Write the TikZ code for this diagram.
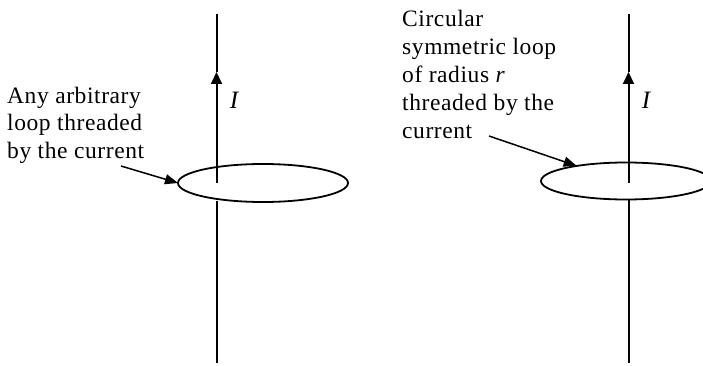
\documentclass[tikz,border=0pt]{standalone}
\usepackage{fontspec}
\setmainfont{Liberation Serif}
\newfontfamily\lblfont[LetterSpace=2.5]{Liberation Serif}
\usetikzlibrary{arrows.meta,shapes.geometric}
\tikzset{
  wire/.style={line width=2pt},
  midtip/.style={-{Triangle[length=12pt,width=11pt]}},
  ptrtip/.style={-{Triangle[length=13pt,width=10pt]}},
  pointer/.style={line width=1.5pt,ptrtip},
  loopshape/.style={draw,ellipse,line width=1.8pt,inner sep=0pt,outer sep=0pt},
  lbl/.style={anchor=base west,inner sep=0pt,font=\lblfont\fontsize{23.5}{27}\selectfont},
  cur/.style={anchor=base,inner sep=0pt,font=\fontsize{25}{26}\selectfont\itshape}
}
\begin{document}
\begin{tikzpicture}[x=1pt,y=-1pt]
\useasboundingbox (0,0) rectangle (703,366);
% ---------- left ----------
\node[loopshape,minimum width=170pt,minimum height=38pt] (loopL) at (263,183) {};
\coordinate (tL) at (216.5,14);
\coordinate (aL) at (216.5,72);
\coordinate (mL) at (216.5,183);
\coordinate (uL) at (216.5,201);
\coordinate (bL) at (216.5,363);
\draw[wire,midtip] (mL) -- (aL);
\draw[wire] (aL) -- (tL);
\draw[wire] (uL) -- (bL);
\node[cur] (IL) at (234,109) {I};
\node[lbl] (l1) at (7,104) {Any arbitrary};
\node[lbl] (l2) at (7,131) {loop threaded};
\node[lbl] (l3) at (7,158) {by the current};
\coordinate (sL) at (121,166);
\draw[pointer] (sL) -- (loopL.west);
% ---------- right ----------
\node[loopshape,minimum width=170pt,minimum height=37pt] (loopR) at (626,181) {};
\coordinate (tR) at (628.5,14);
\coordinate (aR) at (628.5,72);
\coordinate (mR) at (628.5,183);
\coordinate (uR) at (628.5,199);
\coordinate (bR) at (628.5,363);
\draw[wire,midtip] (mR) -- (aR);
\draw[wire] (aR) -- (tR);
\draw[wire] (uR) -- (bR);
\node[cur] (IR) at (646,109) {I};
\node[lbl] (r1) at (402,27) {Circular};
\node[lbl] (r2) at (402,55) {symmetric loop};
\node[lbl] (r3) at (402,83) {of radius \textit{r}};
\node[lbl] (r4) at (402,111) {threaded by the};
\node[lbl] (r5) at (402,139) {current};
\coordinate (sR) at (489,136);
\draw[pointer] (sR) -- (loopR.163);
\end{tikzpicture}
\end{document}
